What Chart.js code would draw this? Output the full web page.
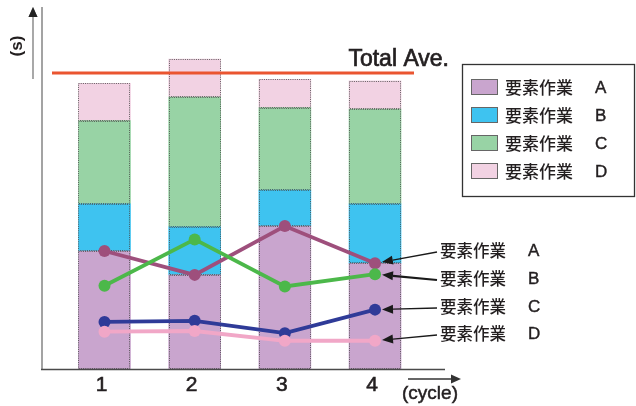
<!DOCTYPE html>
<html>
<head>
<meta charset="utf-8">
<script src="https://cdn.jsdelivr.net/npm/chart.js@4.4.1/dist/chart.umd.min.js"></script>
<style>
  html, body { margin: 0; padding: 0; background: #fff; }
  #wrap { width: 636px; height: 406px; }
</style>
</head>
<body>
<div id="wrap"><canvas id="c" width="636" height="406"></canvas></div>
<script>
// Cycle numbers and the time (s) of each work element per cycle
const cycles = [1, 2, 3, 4];
const xLabels = ['1', '2', '3', '4'];
const elemA = [32.6, 26.0, 39.5, 29.2];
const elemB = [13.0, 13.3, 9.9, 16.4];
const elemC = [23.0, 35.8, 22.8, 26.2];
const elemD = [10.3, 10.5, 7.8, 7.8];
const totalAve = 81.7;

const elemName = '要素作業';
const elemKeys = ['A', 'B', 'C', 'D'];
const elemValues = { A: elemA, B: elemB, C: elemC, D: elemD };

const barColors = { A: '#c9a5ce', B: '#3ec3f0', C: '#98d3a5', D: '#f2d2e3' };
const lineColors = { A: '#9e4f7c', B: '#2f3b98', C: '#4cb84a', D: '#f1a7c7' };
const lineOrder = { A: 4, C: 3, B: 2, D: 1 };

// Callout rows on the right: text letter and the line each arrow points at
const callouts = [
  { letter: 'A', target: 'A', y: 251, lw: 1.3 },
  { letter: 'B', target: 'C', y: 279, lw: 2.2 },
  { letter: 'C', target: 'B', y: 307, lw: 1.3 },
  { letter: 'D', target: 'D', y: 334, lw: 1.3 }
];

const CJK = '"Noto Sans CJK JP", "Noto Sans", sans-serif';
const LAT = '"Liberation Sans", Arial, sans-serif';

const pts = arr => cycles.map((c, i) => ({ x: c, y: arr[i] }));

const datasets = [];
elemKeys.forEach(k => {
  datasets.push({
    type: 'bar',
    label: elemName + ' ' + k,
    data: pts(elemValues[k]),
    backgroundColor: barColors[k],
    borderWidth: 0,
    barThickness: 52,
    stack: 'total',
    order: 10
  });
});
elemKeys.forEach(k => {
  datasets.push({
    type: 'line',
    label: 'line ' + k,
    data: pts(elemValues[k]),
    borderColor: lineColors[k],
    backgroundColor: lineColors[k],
    borderWidth: 3.8,
    pointRadius: 6,
    pointBorderWidth: 0,
    pointBackgroundColor: lineColors[k],
    tension: 0,
    stack: 'line' + k,
    order: lineOrder[k]
  });
});

// text with a hairline stroke for a slightly heavier weight
function text(ctx, s, x, y, font, stroke) {
  ctx.font = font;
  ctx.fillText(s, x, y);
  if (stroke) {
    ctx.lineWidth = stroke;
    ctx.strokeStyle = ctx.fillStyle;
    ctx.strokeText(s, x, y);
  }
}

function arrow(ctx, x1, y1, x2, y2, lw, head, half, color) {
  const ang = Math.atan2(y2 - y1, x2 - x1);
  const bx = x2 - Math.cos(ang) * head, by = y2 - Math.sin(ang) * head;
  ctx.save();
  ctx.strokeStyle = color; ctx.fillStyle = color; ctx.lineWidth = lw;
  ctx.beginPath(); ctx.moveTo(x1, y1); ctx.lineTo(bx, by); ctx.stroke();
  ctx.beginPath();
  ctx.moveTo(x2, y2);
  ctx.lineTo(bx + Math.sin(ang) * half, by - Math.cos(ang) * half);
  ctx.lineTo(bx - Math.sin(ang) * half, by + Math.cos(ang) * half);
  ctx.closePath(); ctx.fill();
  ctx.restore();
}

const decor = {
  id: 'decor',
  afterDatasetDraw(chart, args) {
    // dotted outlines once every bar segment is painted (A is drawn last)
    if (args.index !== 0) return;
    const ctx = chart.ctx;
    ctx.save();
    ctx.setLineDash([1, 1.2]);
    ctx.strokeStyle = 'rgba(70,70,70,0.85)';
    ctx.lineWidth = 1;
    chart.data.datasets.forEach((ds, i) => {
      if (ds.type !== 'bar') return;
      chart.getDatasetMeta(i).data.forEach(el => {
        const l = Math.round(el.x - el.width / 2) + 0.5;
        const r = Math.round(el.x + el.width / 2) - 0.5;
        const t = Math.round(el.y) + 0.5;
        const b = Math.round(el.base) - 0.5;
        ctx.strokeRect(l, t, r - l, b - t);
      });
    });
    ctx.restore();
  },
  beforeDatasetsDraw(chart) {
    const ctx = chart.ctx, ca = chart.chartArea;
    ctx.save();
    // vertical axis
    ctx.strokeStyle = '#858585'; ctx.lineWidth = 1.5;
    ctx.beginPath(); ctx.moveTo(42, ca.top); ctx.lineTo(42, ca.bottom); ctx.stroke();
    ctx.restore();
  },
  afterDraw(chart) {
    const ctx = chart.ctx, ca = chart.chartArea;
    const xs = chart.scales.x, ys = chart.scales.y;
    ctx.save();

    // horizontal axis
    ctx.strokeStyle = '#4a4a4a'; ctx.lineWidth = 1.5;
    ctx.beginPath(); ctx.moveTo(41, ca.bottom + 0.5); ctx.lineTo(445, ca.bottom + 0.5); ctx.stroke();

    // axis direction arrows
    arrow(ctx, 33, 79, 33, 7, 1.3, 10, 4.5, '#7a7a7a');
    ctx.fillStyle = '#222';
    ctx.beginPath(); ctx.moveTo(33, 7); ctx.lineTo(28.5, 17); ctx.lineTo(37.5, 17); ctx.closePath(); ctx.fill();
    arrow(ctx, 408, 379, 461, 379, 1.3, 10, 4.5, '#333');

    // axis titles
    ctx.fillStyle = '#231f20';
    ctx.textAlign = 'center'; ctx.textBaseline = 'middle';
    ctx.save(); ctx.translate(17, 46); ctx.rotate(-Math.PI / 2);
    text(ctx, '(s)', 0, 0, 'bold 17px ' + LAT, 0);
    ctx.restore();
    text(ctx, '(cycle)', 430, 394, '19px ' + LAT, 0.5);

    // cycle tick labels
    cycles.forEach((c, i) => text(ctx, xLabels[i], xs.getPixelForValue(c) - 3, 385, '21px ' + LAT, 0.6));

    // total average line and caption
    const yAve = Math.round(ys.getPixelForValue(totalAve));
    ctx.strokeStyle = '#ea5530'; ctx.lineWidth = 3;
    ctx.beginPath(); ctx.moveTo(52, yAve); ctx.lineTo(414, yAve); ctx.stroke();
    ctx.fillStyle = '#231f20';
    ctx.textAlign = 'right'; ctx.textBaseline = 'alphabetic';
    text(ctx, 'Total Ave.', 449, 66, '23px ' + LAT, 0.7);

    // legend box
    ctx.strokeStyle = '#333'; ctx.lineWidth = 1.3;
    ctx.strokeRect(462.5, 64.5, 172, 132);
    const legY = [87, 115, 143, 171];
    elemKeys.forEach((k, i) => {
      ctx.fillStyle = barColors[k];
      ctx.fillRect(471, legY[i] - 8, 27, 16);
      ctx.strokeStyle = '#666'; ctx.lineWidth = 1;
      ctx.strokeRect(471.5, legY[i] - 7.5, 26, 15);
      ctx.fillStyle = '#231f20';
      ctx.textAlign = 'left'; ctx.textBaseline = 'middle';
      text(ctx, elemName, 505, legY[i] + 1, '500 17px ' + CJK, 0);
      text(ctx, k, 595, legY[i] + 1, '17px ' + LAT, 0.4);
    });

    // callouts pointing at the last point of each line
    callouts.forEach(c => {
      const di = chart.data.datasets.findIndex(d => d.label === 'line ' + c.target);
      const p = chart.getDatasetMeta(di).data[cycles.length - 1];
      const sx = 437, sy = c.y + 1;
      const ang = Math.atan2(p.y - sy, p.x - sx);
      const tx = p.x - Math.cos(ang) * 7, ty = p.y - Math.sin(ang) * 7;
      arrow(ctx, sx, sy, tx, ty, c.lw, 11, 4.5, '#1a1a1a');
      ctx.fillStyle = '#231f20';
      ctx.textAlign = 'left'; ctx.textBaseline = 'middle';
      text(ctx, elemName, 440, c.y, '500 16.5px ' + CJK, 0);
      text(ctx, c.letter, 528, c.y, '17px ' + LAT, 0.4);
    });

    ctx.restore();
  }
};

new Chart(document.getElementById('c'), {
  data: { datasets },
  options: {
    responsive: false,
    animation: false,
    devicePixelRatio: 1,
    layout: { padding: { left: 42, top: 7, right: 191, bottom: 37 } },
    plugins: { legend: { display: false }, tooltip: { enabled: false } },
    scales: {
      x: { type: 'linear', display: false, offset: false, min: 0.307, max: 4.776 },
      y: { display: false, min: 0, max: 100, stacked: true }
    }
  },
  plugins: [decor]
});
</script>
</body>
</html>
